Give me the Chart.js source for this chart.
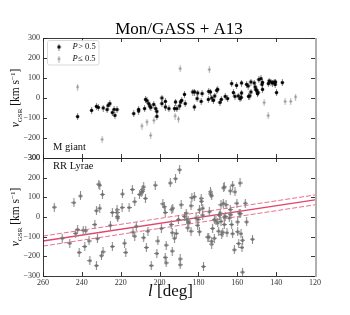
<!DOCTYPE html>
<html>
<head>
<meta charset="utf-8">
<script src="https://cdn.jsdelivr.net/npm/chart.js@4.4.1/dist/chart.umd.min.js"></script>
<style>
  html, body { margin: 0; padding: 0; background: #fff; }
  #wrap { position: relative; width: 350px; height: 315px; }
  canvas { position: absolute; left: 0; }
  #topChart { top: 0; }
  #botChart { top: 146px; }
</style>
</head>
<body>
<div id="wrap">
  <canvas id="topChart" width="350" height="170"></canvas>
  <canvas id="botChart" width="350" height="169"></canvas>
</div>
<script>
// tick values
const xTicks = [260, 240, 220, 200, 180, 160, 140, 120];
const yTicks = [-300, -200, -100, 0, 100, 200, 300];

// M giants, P > 0.5
const mgL = [242.2,235,232.5,231.5,229,227,226.5,225.6,224.3,223,223.4,221.9,213.3,210.8,210.8,207.7,207.2,206.5,
  205.6,205,204.5,203,202,201.4,201.4,198.8,198.8,197,197,195.2,192.3,191.8,191.1,189.7,189.2,188.6,187.2,186.8,
  182.9,182,180.7,180.4,182.1,178.6,178.1,174.7,173.8,174.9,173.2,172.3,171.6,170.6,170.1,168.9,168.2,166.2,165,
  162.9,162,161.2,160.4,159.5,158.6,158,157.8,157.8,155.2,154.4,154.2,153.6,153,153,151.3,150.8,150.4,150,149.6,
  149.3,148.9,147.8,147.3,147,147,144,143.6,142.7,141.9,141,140.5,140.3,139.8,136.8];
const mgV = [-93,-62,-42,-47,-50,-58,-37,-28,-73,-87,-57,-58,-78,-57,-65,-53,-7,-14,
  -28,-40,-47,-32,-53,-67,-92,0,-28,-17,-45,-53,-53,-20,-53,-40,-20,-12,18,-28,
  30,30,-3,25,-45,-17,22,33,30,-7,0,-12,10,38,43,-22,-7,8,-3,
  72,27,8,63,10,-3,3,25,75,68,60,8,10,80,30,75,55,43,37,22,
  27,92,97,68,43,78,72,85,80,75,80,68,80,27,77];

// M giants, P <= 0.5
const mgLowL = [242.2,229.6,209.1,206.5,204.6,202.9,192,190.3,189.4,174.4,146.2,144.1,135.4,132.5,130];
const mgLowV = [55,-207,-140,-120,-187,-112,-90,-105,147,142,-23,-88,-17,-17,5];

// RR Lyrae
const rrL = [254.2,250.1,246.2,244.1,243.2,242.2,241.4,240.7,239.3,238.5,238,236.3,235.9,233.3,232.5,232.5,232,
  231.3,230.8,230.8,229.9,229.4,229.1,224.3,224.3,225.3,221.9,221.9,221.7,221.5,219.3,219.1,218,217.4,215.7,214,
  213.7,212.8,212.8,212,210.3,209.4,208.6,208.2,208.9,207.3,208.2,206.8,206,204.3,202.2,201.4,200.9,199.1,198.3,
  197.5,197.1,197.1,196.6,196.6,194.5,194,193.7,193.5,193.5,193.2,192.3,191.8,191.4,190.3,189.7,189.4,189.4,188.9,
  187.2,186.3,186,185.5,185.3,185,183.8,183.8,183.4,182.1,181.2,180.4,180.2,179.5,179.5,178.6,178.4,177.8,177.8,
  177.4,175.2,174.7,174.4,173.8,173.6,173.2,173.2,173.2,172.7,171.8,171.8,171,170.1,169.6,169.2,168.8,168.4,168.4,
  168,167.5,167.2,167,166.7,166.7,166.7,166.2,165.8,165.3,164.1,163.6,163.6,163.3,162.9,162.4,162.4,161.5,161.2,
  160.2,159.8,159.8,159.3,159,158.6,158.5,158.1,157.6,157.3,157.3,155.9,155.2,152.2];
const rrV = [50,-108,-133,73,-83,-63,-180,107,-67,-150,-70,-122,-222,-38,-247,32,-110,
  167,162,45,-197,115,-177,-150,23,-42,37,23,3,-5,48,117,-133,-180,48,140,
  -77,-97,78,-47,115,123,140,153,130,95,-105,-155,-72,-247,162,-185,-122,-58,67,
  52,23,-205,-233,-143,173,-38,37,-80,-173,45,-108,195,-83,-13,240,-243,-213,62,
  3,20,-12,-55,-20,-28,-72,57,98,103,-5,-42,-12,-75,37,95,80,45,10,
  -252,-102,-102,27,128,117,108,-138,-123,-58,-13,-108,-20,-30,-72,8,20,62,-22,
  -88,-77,70,148,153,-38,0,3,62,-80,-5,133,38,12,-38,-85,162,-167,128,
  70,-75,-25,-135,20,173,17,-85,-155,-118,-280,70,-25,-113];

// linear fit and its +/- band
const fitL = [260, 120];
const fitMid = [-122, 87];
const fitUpper = [-97, 112];
const fitLower = [-148, 62];

const serif = "'Liberation Serif', 'DejaVu Serif', serif";
const pts = (ls, vs) => ls.map((l, i) => ({ x: l, y: vs[i] }));
const minus = v => v < 0 ? '\u2212' + Math.abs(v) : '' + v;

function makeMarker(w, h, r, dot, bar, cross) {
  const c = document.createElement('canvas');
  c.width = w; c.height = h;
  const g = c.getContext('2d');
  g.strokeStyle = bar; g.lineWidth = 1.1;
  g.beginPath();
  g.moveTo(w / 2, 0); g.lineTo(w / 2, h);
  if (cross) { g.moveTo(0, h / 2); g.lineTo(w, h / 2); }
  g.stroke();
  g.fillStyle = dot;
  g.beginPath(); g.arc(w / 2, h / 2, r, 0, Math.PI * 2); g.fill();
  return c;
}
const markBlack = makeMarker(5, 7, 1.7, '#000', 'rgba(0,0,0,0.45)', false);
const markGray = makeMarker(5, 7, 1.2, '#8a8a8a', 'rgba(140,140,140,0.6)', false);
const markRR = makeMarker(5, 9, 1.6, '#6e6e6e', '#8c8c8c', true);

function yScale() {
  return {
    min: -300, max: 300,
    ticks: { stepSize: 100, padding: 3, color: '#333', font: { family: serif, size: 8 }, callback: minus },
    grid: { display: false, drawTicks: false },
    border: { display: false },
    afterFit: s => { s.width = 43; }
  };
}

const framePlugin = {
  id: 'frame',
  afterDatasetsDraw(chart) {
    const { ctx, chartArea: a, scales: { x, y } } = chart;
    ctx.save();
    ctx.strokeStyle = '#222';
    ctx.lineWidth = 0.9;
    ctx.beginPath();
    xTicks.forEach(v => {
      const px = Math.round(x.getPixelForValue(v)) + 0.5;
      ctx.moveTo(px, a.top); ctx.lineTo(px, a.top + 4);
      ctx.moveTo(px, a.bottom); ctx.lineTo(px, a.bottom - 4);
    });
    yTicks.forEach(v => {
      const py = Math.round(y.getPixelForValue(v)) + 0.5;
      ctx.moveTo(a.left, py); ctx.lineTo(a.left + 4, py);
      ctx.moveTo(a.right, py); ctx.lineTo(a.right - 4, py);
    });
    ctx.moveTo(a.right, a.bottom + 0.5); ctx.lineTo(a.left + 0.5, a.bottom + 0.5);
    ctx.lineTo(a.left + 0.5, a.top + 0.5); ctx.lineTo(a.right, a.top + 0.5);
    ctx.stroke();
    ctx.strokeStyle = '#b0b0b0';
    ctx.lineWidth = 2;
    ctx.beginPath(); ctx.moveTo(a.right + 1, a.top); ctx.lineTo(a.right + 1, a.bottom + 1); ctx.stroke();
    ctx.restore();
  }
};

function drawYLabel(ctx, a) {
  const cy = (a.top + a.bottom) / 2;
  const parts = [
    { t: 'v', f: 'italic 11.5px ' + serif, dy: 0 },
    { t: 'GSR', f: '7px ' + serif, dy: 2.5 },
    { t: ' [km s', f: '11.5px ' + serif, dy: 0 },
    { t: '\u22121', f: '7px ' + serif, dy: -4.5 },
    { t: ']', f: '11.5px ' + serif, dy: 0 }
  ];
  ctx.save();
  ctx.translate(19, cy);
  ctx.rotate(-Math.PI / 2);
  ctx.fillStyle = '#111';
  ctx.textBaseline = 'alphabetic';
  let total = 0;
  parts.forEach(p => { ctx.font = p.f; p.w = ctx.measureText(p.t).width; total += p.w; });
  let cx = -total / 2;
  parts.forEach(p => { ctx.font = p.f; ctx.fillText(p.t, cx, p.dy); cx += p.w; });
  ctx.restore();
}

const topText = {
  id: 'topText',
  afterDraw(chart) {
    const { ctx, chartArea: a } = chart;
    drawYLabel(ctx, a);
    ctx.save();
    ctx.fillStyle = '#111';
    ctx.font = '10.5px ' + serif;
    ctx.fillText('M giant', a.left + 10, a.bottom - 8.5);
    // legend box
    ctx.fillStyle = 'rgba(255,255,255,0.85)';
    ctx.strokeStyle = '#cfcfcf';
    ctx.lineWidth = 0.8;
    ctx.beginPath();
    ctx.roundRect(47.5, 40.5, 51.5, 24.5, 2);
    ctx.fill(); ctx.stroke();
    const rows = [{ m: markBlack, s: '>', y: 47 }, { m: markGray, s: '\u2264', y: 59 }];
    ctx.textBaseline = 'middle';
    rows.forEach(r => {
      ctx.drawImage(r.m, 59 - r.m.width / 2, r.y - r.m.height / 2);
      ctx.fillStyle = '#111';
      ctx.font = 'italic 8.5px ' + serif;
      ctx.fillText('P', 72.5, r.y);
      const w = ctx.measureText('P').width;
      ctx.font = '8.5px ' + serif;
      ctx.fillText(r.s + ' 0.5', 72.5 + w + 0.5, r.y);
    });
    ctx.restore();
  }
};

const botText = {
  id: 'botText',
  afterDraw(chart) {
    const { ctx, chartArea: a } = chart;
    drawYLabel(ctx, a);
    ctx.save();
    ctx.fillStyle = '#111';
    ctx.font = '10.5px ' + serif;
    ctx.fillText('RR Lyrae', a.left + 10, a.top + 10.5);
    // x axis title
    ctx.font = 'italic 17px ' + serif;
    const lw = ctx.measureText('l').width;
    ctx.font = '17px ' + serif;
    const rw = ctx.measureText(' [deg]').width;
    const x0 = 170.5 - (lw + rw) / 2;
    ctx.font = 'italic 17px ' + serif;
    ctx.fillText('l', x0, 150);
    ctx.font = '17px ' + serif;
    ctx.fillText(' [deg]', x0 + lw, 150);
    ctx.restore();
  }
};

const baseOpts = {
  responsive: false,
  animation: false,
  events: [],
  plugins: { legend: { display: false }, tooltip: { enabled: false } }
};

new Chart(document.getElementById('topChart'), {
  type: 'scatter',
  data: {
    datasets: [
      { data: pts(mgLowL, mgLowV), pointStyle: markGray, pointRadius: 2 },
      { data: pts(mgL, mgV), pointStyle: markBlack, pointRadius: 2 }
    ]
  },
  options: {
    ...baseOpts,
    layout: { padding: { top: 21, right: 35, bottom: 12, left: 0 } },
    plugins: {
      ...baseOpts.plugins,
      title: {
        display: true, text: 'Mon/GASS + A13', fullSize: false, color: '#000',
        font: { family: serif, size: 17, weight: 'normal', lineHeight: 1 }, padding: 0
      }
    },
    scales: {
      x: { type: 'linear', min: 120, max: 260, reverse: true, display: false },
      y: yScale()
    }
  },
  plugins: [framePlugin, topText]
});

new Chart(document.getElementById('botChart'), {
  type: 'scatter',
  data: {
    datasets: [
      { data: pts(rrL, rrV), pointStyle: markRR, pointRadius: 2 },
      { data: pts(fitL, fitUpper), showLine: true, pointRadius: 0, borderColor: '#e8708e', borderWidth: 1, borderDash: [5, 2] },
      { data: pts(fitL, fitLower), showLine: true, pointRadius: 0, borderColor: '#e8708e', borderWidth: 1, borderDash: [5, 2] },
      { data: pts(fitL, fitMid), showLine: true, pointRadius: 0, borderColor: '#e0446a', borderWidth: 1.4 }
    ]
  },
  options: {
    ...baseOpts,
    layout: { padding: { top: 12, right: 35, bottom: 0, left: 0 } },
    scales: {
      x: {
        type: 'linear', min: 120, max: 260, reverse: true,
        ticks: { stepSize: 20, padding: 2, color: '#333', font: { family: serif, size: 8 }, maxRotation: 0, autoSkip: false },
        grid: { display: false, drawTicks: false },
        border: { display: false },
        afterFit: s => { s.height = 39; }
      },
      y: yScale()
    }
  },
  plugins: [framePlugin, botText]
});
</script>
</body>
</html>
